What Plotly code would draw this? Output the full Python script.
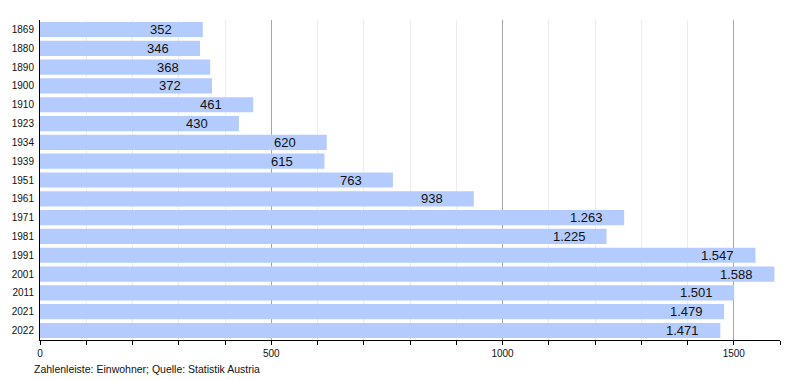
import plotly.graph_objects as go

years = ["1869", "1880", "1890", "1900", "1910", "1923", "1934", "1939", "1951",
         "1961", "1971", "1981", "1991", "2001", "2011", "2021", "2022"]
population = [352, 346, 368, 372, 461, 430, 620, 615, 763, 938, 1263, 1225,
              1547, 1588, 1501, 1479, 1471]
x_tick_vals = [0, 500, 1000, 1500]
x_tick_text = ["0", "500", "1000", "1500"]
footer = "Zahlenleiste: Einwohner; Quelle: Statistik Austria"


def de_format(v):
    return f"{v:,}".replace(",", ".")


fig = go.Figure()
fig.add_trace(go.Bar(
    x=population, y=years, orientation="h",
    marker=dict(color="#b3cbfd", line=dict(width=0)),
    hoverinfo="x+y",
))

for i, v in enumerate(population):
    txt = de_format(v)
    fig.add_annotation(
        x=v, y=i, text=txt, showarrow=False,
        xanchor="right", yanchor="middle",
        xshift=-29 if len(txt) <= 3 else -19,
        font=dict(family="Liberation Sans, Arial, sans-serif", size=13, color="#111"),
    )

fig.add_annotation(
    x=0, y=0, xref="paper", yref="paper", xanchor="left", yanchor="top",
    xshift=-8, yshift=-21, showarrow=False, text=footer,
    font=dict(family="Liberation Sans, Arial, sans-serif", size=10.5, color="#111"),
)

# page body has an 8px default margin, so the figure is sized to fit the window
fig.update_layout(
    width=792, height=372,
    margin=dict(l=32, r=20, t=12, b=40),
    paper_bgcolor="white", plot_bgcolor="white",
    bargap=0.19,
    showlegend=False,
    font=dict(family="Liberation Sans, Arial, sans-serif", size=10, color="#111"),
    xaxis=dict(
        range=[0, 1600],
        tickvals=x_tick_vals, ticktext=x_tick_text,
        ticks="outside", ticklen=4, tickcolor="#000", tickwidth=1,
        showgrid=True, gridcolor="#a6a6a6", gridwidth=1,
        showline=True, linecolor="#000", linewidth=1,
        zeroline=False,
        minor=dict(dtick=100, tick0=0, ticks="outside", ticklen=4,
                   tickcolor="#000", showgrid=True, gridcolor="#ececec"),
        tickfont=dict(size=10),
        automargin=False,
        fixedrange=True,
    ),
    yaxis=dict(
        type="category", autorange="reversed",
        categoryorder="array", categoryarray=years,
        showline=True, linecolor="#000", linewidth=1,
        ticks="", showgrid=False, zeroline=False,
        tickfont=dict(size=10),
        ticklabelstandoff=3,
        automargin=False,
        fixedrange=True,
    ),
)

fig.write_html("out.html")
